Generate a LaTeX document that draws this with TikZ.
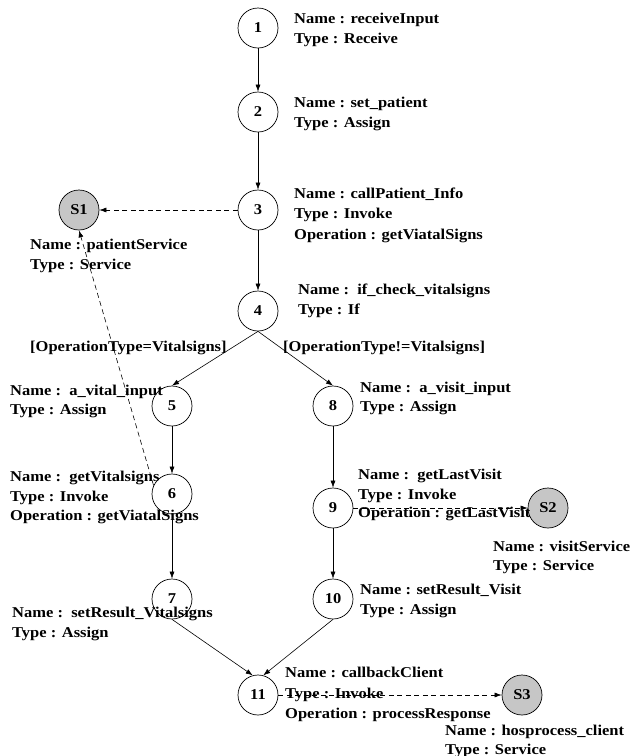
\documentclass[tikz,border=0pt]{standalone}
\usepackage{fontspec}
\setmainfont{Liberation Serif}[FakeStretch=1.1]
\usetikzlibrary{arrows.meta}
\begin{document}
\begin{tikzpicture}[x=1pt,y=-1pt,
  act/.style={circle, draw, line width=0.7pt, minimum size=40pt, inner sep=0pt, font=\fontsize{15}{18}\selectfont\bfseries},
  svc/.style={act, fill=gray!45},
  lbl/.style={anchor=base west, inner sep=0pt, font=\fontsize{15}{18}\selectfont\bfseries},
  flow/.style={draw, line width=0.6pt, -{Latex[length=7pt,width=5pt]}},
  call/.style={flow, dash pattern=on 5pt off 3.5pt}]
\useasboundingbox (0,0) rectangle (632,756);
% activity nodes
\node[act] (n1) at (258,28) {1};
\node[act] (n2) at (258,112) {2};
\node[act] (n3) at (258,210) {3};
\node[act] (n4) at (258,311) {4};
\node[act] (n5) at (172,406) {5};
\node[act] (n8) at (333,406) {8};
\node[act] (n6) at (172,494) {6};
\node[act] (n9) at (333,508) {9};
\node[act] (n7) at (172,599) {7};
\node[act] (n10) at (333,599) {10};
\node[act] (n11) at (258,695) {11};
\node[svc] (s1) at (79,210) {S1};
\node[svc] (s2) at (548,508) {S2};
\node[svc] (s3) at (522,695) {S3};
% labels
\node[lbl] (l1a) at (294,23) {Name : receiveInput};
\node[lbl] (l1b) at (294,43) {Type : Receive};
\node[lbl] (l2a) at (294,107) {Name : set\_patient};
\node[lbl] (l2b) at (294,127) {Type : Assign};
\node[lbl] (l3a) at (294,198) {Name : callPatient\_Info};
\node[lbl] (l3b) at (294,218) {Type : Invoke};
\node[lbl] (l3c) at (294,239) {Operation : getViatalSigns};
\node[lbl] (ls1a) at (30,249) {Name : patientService};
\node[lbl] (ls1b) at (30,269) {Type : Service};
\node[lbl] (l4a) at (298,294) {Name :\ \ if\_check\_vitalsigns};
\node[lbl] (l4b) at (298,314) {Type : If};
\node[lbl] (c1) at (30,351) {[OperationType=Vitalsigns]};
\node[lbl] (c2) at (283,351) {[OperationType!=Vitalsigns]};
\node[lbl] (l5a) at (10,395) {Name :\ \ a\_vital\_input};
\node[lbl] (l5b) at (10,414) {Type : Assign};
\node[lbl] (l8a) at (360,392) {Name :\ \ a\_visit\_input};
\node[lbl] (l8b) at (360,411) {Type : Assign};
\node[lbl] (l6a) at (10,481) {Name :\ \ getVitalsigns};
\node[lbl] (l6b) at (10,501) {Type : Invoke};
\node[lbl] (l6c) at (10,520) {Operation : getViatalSigns};
\node[lbl] (l9a) at (358,479) {Name :\ \ getLastVisit};
\node[lbl] (l9b) at (358,499) {Type : Invoke};
\node[lbl] (l9c) at (358,517) {Operation : getLastVisit};
\node[lbl] (ls2a) at (493,551) {Name : visitService};
\node[lbl] (ls2b) at (493,570) {Type : Service};
\node[lbl] (l7a) at (12,617) {Name :\ \ setResult\_Vitalsigns};
\node[lbl] (l7b) at (12,637) {Type : Assign};
\node[lbl] (l10a) at (360,594) {Name : setResult\_Visit};
\node[lbl] (l10b) at (360,614) {Type : Assign};
\node[lbl] (l11a) at (285,677) {Name : callbackClient};
\node[lbl] (l11b) at (285,698) {Type : Invoke};
\node[lbl] (l11c) at (285,718) {Operation : processResponse};
\node[lbl] (ls3a) at (445,735) {Name : hosprocess\_client};
\node[lbl] (ls3b) at (445,754) {Type : Service};
% control flow
\draw[flow] (n1) -- (n2);
\draw[flow] (n2) -- (n3);
\draw[flow] (n3) -- (n4);
\draw[flow] (n4.south) -- (n5.north);
\draw[flow] (n4.south) -- (n8.north);
\draw[flow] (n5) -- (n6);
\draw[flow] (n6) -- (n7);
\draw[flow] (n8) -- (n9);
\draw[flow] (n9) -- (n10);
\draw[flow] (n7.south) -- (n11.105);
\draw[flow] (n10.south) -- (n11.75);
% service calls
\draw[call] (n3) -- (s1);
\draw[call] (n6.155) -- (s1.south);
\draw[call] (n9) -- (s2);
\draw[call] (n11) -- (s3);
\end{tikzpicture}
\end{document}
